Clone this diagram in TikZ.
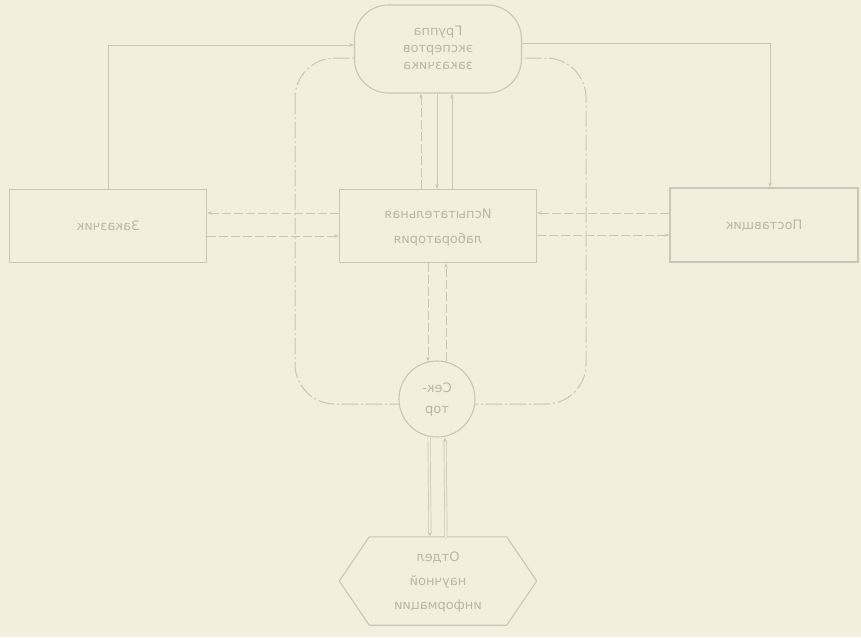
\documentclass[tikz,border=0pt]{standalone}
\usepackage{fontspec}
\setmainfont{DejaVu Sans}
\usetikzlibrary{arrows.meta,calc}
\definecolor{paper}{RGB}{243,238,222}
\definecolor{ink}{RGB}{203,198,185}
\definecolor{inktext}{RGB}{188,182,167}
% labels read through the sheet: set mirrored
\newcommand{\mirr}[2][1.4]{\scalebox{-1}[1]{\renewcommand{\arraystretch}{#1}\begin{tabular}{@{}c@{}}#2\end{tabular}}}
\begin{document}
\begin{tikzpicture}[x=1pt,y=1pt,
  box/.style={draw=ink, line width=1.1pt, fill=paper, inner sep=0pt, text=inktext,
              font=\fontsize{13}{15}\selectfont},
  conn/.style={draw=ink, line width=1pt},
  dconn/.style={draw=ink, line width=1pt, dash pattern=on 9pt off 3pt},
  tip/.style={-{Stealth[length=5pt,width=3.5pt]}},
  loopline/.style={draw=ink, line width=1pt, dash pattern=on 16pt off 3pt on 2pt off 3pt}]
\fill[paper] (0,0) rectangle (861,-637);
\useasboundingbox (0,0) rectangle (861,-637);

% feedback loop round the central box
\draw[loopline, rounded corners=40] (295,-58) rectangle (586,-404);

% nodes
\node[box, rounded corners=34, minimum width=167, minimum height=88] (topn) at (438,-49)
  {\mirr[1.13]{Группа\\экспертов\\заказчика}};
\node[box, minimum width=197, minimum height=73] (cen) at (438,-226)
  {\mirr[1.67]{Испытательная\\лаборатория}};
\node[box, minimum width=197, minimum height=73] (lft) at (108,-226)
  {\mirr{Заказчик}};
\node[box, minimum width=188, minimum height=74] (rgt) at (764,-225)
  {\mirr{Поставщик}};
\node[box, circle, minimum size=76] (circ) at (437,-399)
  {\mirr[1.4]{Сек-\\тор}};
\node[minimum width=197, minimum height=88, inner sep=0pt] (hex) at (438,-581) {};
\draw[draw=ink, line width=1.1pt, fill=paper]
  (hex.west) -- ($(hex.north west)+(30,0)$) -- ($(hex.north east)+(-30,0)$) -- (hex.east)
  -- ($(hex.south east)+(-30,0)$) -- ($(hex.south west)+(30,0)$) -- cycle;
\node[text=inktext, font=\fontsize{13}{15}\selectfont] (hextext) at (hex.center)
  {\mirr[1.6]{Отдел\\научной\\информации}};

% connectors: outer routes to the top node
\draw[conn, tip] (lft.north) |- ($(topn.west)+(0,4)$);
\draw[conn, tip] ($(topn.east)+(0,6)$) -| ($(rgt.north)+(6,0)$);

% top node and central box
\draw[dconn, tip] ($(cen.north)+(-17,0)$) -- ($(topn.south)+(-17,0)$);
\draw[conn, tip] ($(topn.south)+(-1,0)$) -- ($(cen.north)+(-1,0)$);
\draw[conn, tip] ($(cen.north)+(14,0)$) -- ($(topn.south)+(14,0)$);

% central box and circle
\draw[dconn, tip] ($(cen.south)+(-10,0)$) -- ($(circ.north)+(-9,-1)$);
\draw[dconn, tip] ($(circ.north)+(9,-1)$) -- ($(cen.south)+(8,0)$);

% circle and hexagon
\draw[draw=ink, double=paper, double distance=1.6pt, line width=0.7pt, tip]
  ($(circ.south)+(-8,0)$) -- ($(hex.north)+(-8,0)$);
\draw[draw=ink, double=paper, double distance=1.6pt, line width=0.7pt, tip]
  ($(hex.north)+(8,0)$) -- ($(circ.south)+(8,0)$);

% side boxes and central box
\draw[dconn, tip] ($(cen.west)+(0,13)$) -- ($(lft.east)+(0,13)$);
\draw[dconn, tip] ($(lft.east)+(0,-10)$) -- ($(cen.west)+(0,-10)$);
\draw[dconn, tip] ($(rgt.west)+(0,12)$) -- ($(cen.east)+(0,13)$);
\draw[dconn, tip] ($(cen.east)+(0,-9)$) -- ($(rgt.west)+(0,-10)$);
\end{tikzpicture}
\end{document}
